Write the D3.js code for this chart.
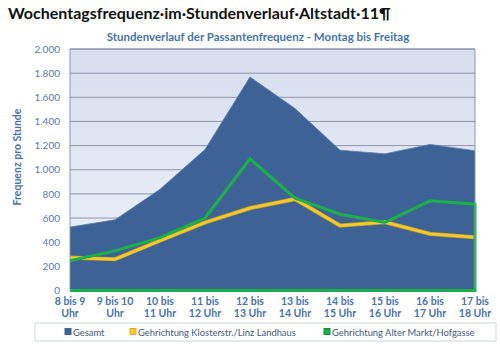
<!DOCTYPE html>
<html><head><meta charset="utf-8">
<script src="https://cdn.jsdelivr.net/npm/d3@7"></script>
<style>body{margin:0;background:#fff;} svg{display:block;font-family:Lato,"Open Sans",sans-serif;}</style>
</head><body><div id="chart"></div>
<script>
const categories = ["8 bis 9|Uhr","9 bis 10|Uhr","10 bis|11 Uhr","11 bis|12 Uhr","12 bis|13 Uhr","13 bis|14 Uhr","14 bis|15 Uhr","15 bis|16 Uhr","16 bis|17 Uhr","17 bis|18 Uhr"];
const gesamt = [525, 585, 838, 1168, 1768, 1508, 1162, 1132, 1210, 1158];
const kloster = [272, 259, 413, 563, 682, 757, 538, 566, 469, 441];
const markt = [247, 328, 438, 599, 1091, 765, 632, 563, 743, 715];
const yTicks = [0,200,400,600,800,1000,1200,1400,1600,1800,2000];
const seriesNames = ["Gesamt","Gehrichtung Klosterstr./Linz Landhaus","Gehrichtung Alter Markt/Hofgasse"];

const W=500,H=354;
const svg=d3.select("#chart").append("svg").attr("width",W).attr("height",H);
const m={l:70,r:475,t:49,b:290.5};
const x=d3.scalePoint().domain(d3.range(categories.length)).range([m.l,m.r]);
const y=d3.scaleLinear().domain([0,2000]).range([m.b,m.t]);

const defs=svg.append("defs");
const g=defs.append("linearGradient").attr("id","bg").attr("x1",0).attr("y1",0).attr("x2",0).attr("y2",1);
g.append("stop").attr("offset","0%").attr("stop-color","#d7deee");
g.append("stop").attr("offset","100%").attr("stop-color","#eef1f8");

// title
svg.append("text").attr("x",8).attr("y",18.5).attr("font-size",16).attr("font-weight","bold").attr("fill","#111")
  .text("Wochentagsfrequenz·im·Stundenverlauf·Altstadt·11¶");
svg.append("text").attr("x",258).attr("y",41).attr("text-anchor","middle").attr("font-size",11.5).attr("font-weight","bold").attr("fill","#4a73a8")
  .text("Stundenverlauf der Passantenfrequenz - Montag bis Freitag");

// plot bg
svg.append("rect").attr("x",m.l).attr("y",m.t).attr("width",m.r-m.l).attr("height",m.b-m.t).attr("fill","url(#bg)");
// grid
svg.append("g").selectAll("line").data(yTicks.filter(d=>d>0)).join("line")
  .attr("x1",m.l).attr("x2",m.r).attr("y1",d=>y(d)).attr("y2",d=>y(d)).attr("stroke","#8d96aa").attr("stroke-width",1);

// area
const area=d3.area().x((d,i)=>x(i)).y0(y(0)).y1(d=>y(d));
svg.append("path").datum(gesamt).attr("d",area).attr("fill","#3d6396");
svg.append("path").datum(gesamt).attr("d",d3.line().x((d,i)=>x(i)).y(d=>y(d))).attr("fill","none").attr("stroke","#5a7fb0").attr("stroke-width",0.8);

// yellow line
const line=d3.line().x((d,i)=>x(i)).y(d=>y(d));
svg.append("path").datum(kloster).attr("d",line).attr("fill","none").attr("stroke","#b89a2a").attr("stroke-width",4.2);
svg.append("path").datum(kloster).attr("d",line).attr("fill","none").attr("stroke","#f5c730").attr("stroke-width",2.8);

// green area outline
const n=markt.length;
const gpts=markt.map((d,i)=>[x(i),y(d)]).concat([[x(n-1),y(0)],[x(0),y(0)]]);
svg.append("path").attr("d",d3.line()(gpts)).attr("fill","none").attr("stroke","#1bb04a").attr("stroke-width",3).attr("stroke-linejoin","miter");

// axes frame
svg.append("line").attr("x1",m.l).attr("x2",m.l).attr("y1",m.t).attr("y2",m.b).attr("stroke","#8d96aa");
svg.append("line").attr("x1",m.r).attr("x2",m.r).attr("y1",m.t).attr("y2",m.b-2).attr("stroke","#8d96aa");
svg.append("line").attr("x1",m.l).attr("x2",m.r).attr("y1",m.t).attr("y2",m.t).attr("stroke","#8d96aa");

// y ticks
const yAxis=d3.axisLeft(y).tickValues(yTicks).tickSize(0).tickPadding(10)
  .tickFormat(d=>d3.format(",")(d).replace(/,/g,"."));
const ya=svg.append("g").attr("transform",`translate(${m.l},0)`).call(yAxis);
ya.select(".domain").remove();
ya.selectAll("text").attr("font-size",10).attr("fill","#5b7aa3").attr("font-family","Lato, sans-serif");

// y title
svg.append("text").attr("transform","translate(21,157) rotate(-90)").attr("text-anchor","middle")
  .attr("font-size",10.5).attr("font-weight","bold").attr("fill","#4a73a8").text("Frequenz pro Stunde");

// x labels
const xl=svg.append("g").selectAll("text").data(categories).join("text")
  .attr("x",(d,i)=>x(i)).attr("y",305).attr("text-anchor","middle").attr("font-size",10.5).attr("font-weight","bold").attr("fill","#4a73a8");
xl.each(function(d){const t=d3.select(this);d.split("|").forEach((s,k)=>t.append("tspan").attr("x",t.attr("x")).attr("dy",k?12:0).text(s));});

// legend
svg.append("rect").attr("x",35).attr("y",323).attr("width",461).attr("height",18).attr("fill","#fff").attr("stroke","#d0d5de");
const legX=[65,130,324];
const legFill=["#3d6396","#f5c730","#1bb04a"];
const legStroke=["#3d6396","#f0a818","#148a38"];
seriesNames.forEach((s,i)=>{
  svg.append("rect").attr("x",legX[i]).attr("y",328.5).attr("width",6).attr("height",6).attr("fill",legFill[i]).attr("stroke",legStroke[i]).attr("stroke-width",1);
  svg.append("text").attr("x",legX[i]+8).attr("y",335.5).attr("font-size",9.4).attr("fill","#44597a").text(s);
});
</script></body></html>
